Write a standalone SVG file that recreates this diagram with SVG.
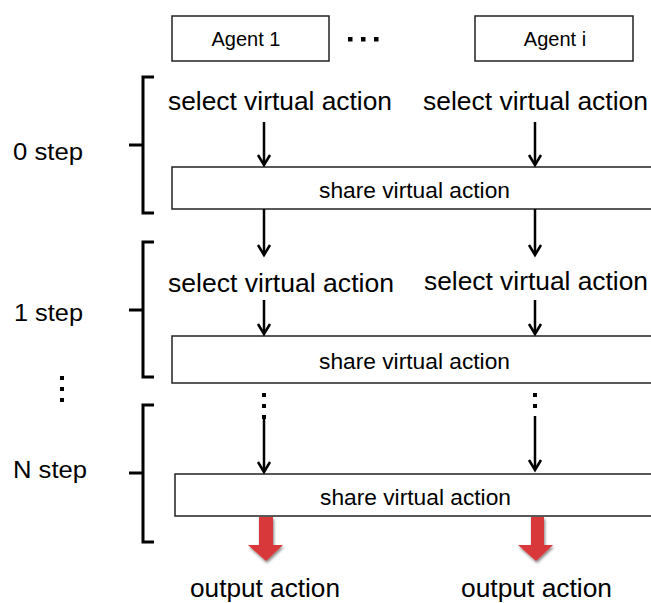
<svg xmlns="http://www.w3.org/2000/svg" width="651" height="603" viewBox="0 0 651 603">
<defs>
<style>
.box{fill:#fff;stroke:#222;stroke-width:1.5}
.t{font-family:"Liberation Sans",Arial,sans-serif;fill:#000}
.sel{font-size:25px}
.shr{font-size:22px}
.ag{font-size:20px}
.lbl{font-size:24px}
.brace{fill:none;stroke:#000;stroke-width:3;stroke-linejoin:miter}
.arr{stroke:#000;stroke-width:2.5;fill:none;marker-end:url(#ah)}
.dot{fill:#000}
.red{fill:#d9393a;filter:url(#sh)}
</style>
<marker id="ah" markerUnits="userSpaceOnUse" markerWidth="16" markerHeight="16" viewBox="0 0 16 16" refX="13" refY="8" orient="auto">
<path d="M3,2 L13,8 L3,14" fill="none" stroke="#000" stroke-width="2.5"/>
</marker>
<filter id="sh" x="-30%" y="-30%" width="160%" height="160%">
<feGaussianBlur in="SourceAlpha" stdDeviation="1.5"/>
<feOffset dx="1" dy="1.5" result="b"/>
<feComponentTransfer><feFuncA type="linear" slope="0.5"/></feComponentTransfer>
<feMerge><feMergeNode/><feMergeNode in="SourceGraphic"/></feMerge>
</filter>
</defs>

<g id="agent1">
<rect class="box" x="172" y="16" width="157" height="45"/>
<text class="t ag" x="246" y="46" text-anchor="middle">Agent 1</text>
</g>
<g id="ellipsis">
<rect class="dot" x="348" y="37" width="4.5" height="4.5"/>
<rect class="dot" x="361" y="37" width="4.5" height="4.5"/>
<rect class="dot" x="374" y="37" width="4.5" height="4.5"/>
</g>
<g id="agenti">
<rect class="box" x="475" y="16" width="158" height="45"/>
<text class="t ag" x="555" y="46" text-anchor="middle">Agent i</text>
</g>

<g id="step0">
<path class="brace" d="M154,77 L143,77 L143,145 L129,145 M143,145 L143,213 L154,213"/>
<text class="t lbl" x="13" y="160" textLength="70" lengthAdjust="spacingAndGlyphs">0 step</text>
<text class="t sel" x="168" y="110" textLength="224" lengthAdjust="spacingAndGlyphs">select virtual action</text>
<text class="t sel" x="423" y="110" textLength="225" lengthAdjust="spacingAndGlyphs">select virtual action</text>
</g>
<g id="share0">
<rect class="box" x="172" y="167" width="500" height="42"/>
<text class="t shr" x="319" y="198" textLength="191" lengthAdjust="spacingAndGlyphs">share virtual action</text>
</g>

<g id="step1">
<path class="brace" d="M154,242 L143,242 L143,310 L129,310 M143,310 L143,377 L154,377"/>
<text class="t lbl" x="14" y="321" textLength="69" lengthAdjust="spacingAndGlyphs">1 step</text>
<text class="t sel" x="168" y="292" textLength="226" lengthAdjust="spacingAndGlyphs">select virtual action</text>
<text class="t sel" x="424" y="290" textLength="224" lengthAdjust="spacingAndGlyphs">select virtual action</text>
</g>
<g id="share1">
<rect class="box" x="172" y="336" width="500" height="47"/>
<text class="t shr" x="319" y="369" textLength="191" lengthAdjust="spacingAndGlyphs">share virtual action</text>
</g>

<g id="vdots">
<rect class="dot" x="60" y="376" width="4" height="4"/>
<rect class="dot" x="60" y="387" width="4" height="4"/>
<rect class="dot" x="60" y="398" width="4" height="4"/>
</g>

<g id="stepN">
<path class="brace" d="M154,405 L143,405 L143,473 L129,473 M143,473 L143,542 L154,542"/>
<text class="t lbl" x="13" y="478" textLength="74" lengthAdjust="spacingAndGlyphs">N step</text>
</g>
<g id="share2">
<rect class="box" x="175" y="474" width="500" height="42"/>
<text class="t shr" x="320" y="505" textLength="191" lengthAdjust="spacingAndGlyphs">share virtual action</text>
</g>

<g id="outputs">
<text class="t sel" x="190" y="597" textLength="150" lengthAdjust="spacingAndGlyphs">output action</text>
<text class="t sel" x="461" y="597" textLength="151" lengthAdjust="spacingAndGlyphs">output action</text>
</g>

<g id="connectors">
<line class="arr" x1="264" y1="122" x2="264" y2="165"/>
<line class="arr" x1="535" y1="122" x2="535" y2="165"/>
<line class="arr" x1="264" y1="209" x2="264" y2="255"/>
<line class="arr" x1="535" y1="209" x2="535" y2="255"/>
<line class="arr" x1="264" y1="300" x2="264" y2="334"/>
<line class="arr" x1="535" y1="300" x2="535" y2="334"/>
<rect class="dot" x="262" y="393" width="4" height="4"/>
<rect class="dot" x="262" y="404" width="4" height="4"/>
<rect class="dot" x="262" y="415" width="4" height="4"/>
<line class="arr" x1="264" y1="419" x2="264" y2="472"/>
<rect class="dot" x="533" y="393" width="4" height="4"/>
<rect class="dot" x="533" y="404" width="4" height="4"/>
<line class="arr" x1="535" y1="416" x2="535" y2="470"/>
<path class="red" d="M259,517 L273,517 L273,545 L283,545 L266,561 L248,545 L259,545 Z"/>
<path class="red" d="M531,517 L544,517 L544,545 L553,545 L536,561 L518,545 L531,545 Z"/>
</g>
</svg>
